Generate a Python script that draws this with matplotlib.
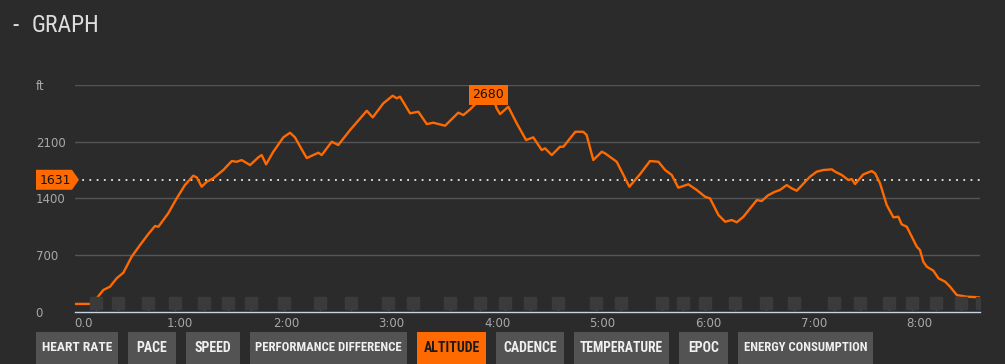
# altitude graph, dark dashboard style
import numpy as np
import matplotlib.pyplot as plt
from matplotlib.patches import Rectangle, Polygon
from matplotlib.transforms import blended_transform_factory
from matplotlib import font_manager

# elapsed time (minutes) and altitude (ft)
minutes = [0, 8.8, 12.6, 16.3, 20.1, 23.9, 27.7, 32.4, 37.2, 41.9, 45.7, 47.6, 53.2, 58.0,
           62.7, 67.4, 69.4, 72.2, 75.1, 78.8, 84.5, 89.3, 92.1, 94.9, 99.7, 104.4, 106.3,
           108.8, 112.9, 118.6, 122.4, 125.2, 129.0, 131.9, 135.6, 138.5, 140.4, 146.1,
           149.8, 156.5, 166.0, 169.4, 175.4, 180.7, 183.0, 184.9, 190.6, 195.3, 200.1,
           203.8, 210.5, 218.0, 220.9, 224.7, 229.2, 235.0, 238.3, 239.8, 241.7, 246.4,
           251.2, 256.5, 260.6, 265.4, 267.3, 271.1, 275.8, 277.7, 284.5, 289.0, 290.9,
           294.7, 299.5, 301.4, 308.0, 311.8, 315.2, 321.3, 326.9, 331.7, 335.5, 339.3,
           343.0, 348.7, 353.5, 358.2, 361.0, 365.8, 369.6, 373.4, 376.2, 380.0, 387.6,
           390.4, 393.8, 397.9, 400.7, 404.6, 407.4, 410.3, 417.8, 421.6, 425.4, 430.2,
           432.1, 435.9, 439.6, 441.5, 443.4, 448.1, 452.9, 454.8, 457.6, 461.4, 465.2,
           468.0, 469.9, 472.8, 478.5, 480.3, 482.2, 484.2, 487.9, 490.8, 494.6, 497.4,
           501.2, 506.9, 514.4]
altitude = [95, 95, 165, 267, 308, 412, 481, 679, 824, 960, 1059, 1050, 1216, 1401,
            1566, 1681, 1661, 1545, 1607, 1649, 1752, 1863, 1854, 1875, 1813, 1909, 1937,
            1822, 1978, 2156, 2213, 2156, 2008, 1900, 1937, 1966, 1937, 2102,
            2061, 2246, 2485, 2403, 2577, 2671, 2639, 2659, 2453, 2473, 2320,
            2337, 2300, 2461, 2432, 2502, 2600, 2680, 2610, 2515, 2444, 2535,
            2329, 2123, 2156, 1999, 2020, 1937, 2040, 2040, 2225, 2225, 2185,
            1875, 1978, 1958, 1854, 1690, 1545, 1702, 1863, 1854, 1752, 1690,
            1533, 1575, 1504, 1421, 1401, 1195, 1112, 1133, 1105, 1174, 1380,
            1368, 1436, 1483, 1504, 1566, 1525, 1496, 1669, 1731, 1752, 1760,
            1731, 1690, 1628, 1640, 1578, 1698, 1739, 1711, 1587, 1319, 1166,
            1174, 1080, 1050, 803, 762, 617, 555, 506, 412, 370, 308,
            205, 184, 177]

# lap markers (minutes)
laps = [11.9, 24.9, 41.7, 56.8, 73.8, 87.4, 100.5, 118.7, 139.2, 157.3, 177.8, 192.0,
        213.0, 230.1, 244.8, 258.5, 274.9, 296.0, 310.2, 333.5, 345.4, 357.9, 375.0,
        392.6, 408.5, 431.2, 446.0, 462.5, 475.5, 489.2, 503.4, 515.6]

avg_alt = 1631
yticks = [0, 700, 1400, 2100, 2800]
ytick_labels = ['0', '700', '1400', '2100', 'ft']
xticks = [0, 60, 120, 180, 240, 300, 360, 420, 480]
xtick_labels = ['0.0', '1:00', '2:00', '3:00', '4:00', '5:00', '6:00', '7:00', '8:00']

buttons = ['HEART RATE', 'PACE', 'SPEED', 'PERFORMANCE DIFFERENCE', 'ALTITUDE',
           'CADENCE', 'TEMPERATURE', 'EPOC', 'ENERGY CONSUMPTION']
button_x = [(36, 118), (128, 176), (186, 240), (250, 407), (417, 486),
            (496, 564), (574, 669), (679, 728), (738, 873)]
active = 'ALTITUDE'

BG = '#2b2b2b'
ORANGE = '#ff6a00'
W, H = 1005, 364

# pick a narrow face if one is installed
names = {f.name for f in font_manager.fontManager.ttflist}
narrow = [n for n in ['Liberation Sans Narrow', 'Roboto Condensed', 'Open Sans Condensed',
                      'DejaVu Sans Condensed', 'Roboto'] if n in names]
narrow = narrow + ['DejaVu Sans']

fig = plt.figure(figsize=(W / 100, H / 100), dpi=100, facecolor=BG)
ax = fig.add_axes([74.6 / W, (H - 311.6) / H, (980 - 74.6) / W, (311.6 - 85.3) / H])
ax.set_facecolor(BG)
ax.set_xlim(0, 514.4)
ax.set_ylim(0, 2800)

for s in ['top', 'right', 'left']:
    ax.spines[s].set_visible(False)
ax.spines['bottom'].set_color('#c4d4e4')
ax.spines['bottom'].set_linewidth(1.0)

ax.set_yticks(yticks)
ax.set_yticklabels(ytick_labels)
ax.set_xticks(xticks)
ax.set_xticklabels(xtick_labels)
ax.tick_params(axis='y', length=0, pad=28, labelsize=8.5, labelcolor='#a8a8a8')
ax.tick_params(axis='x', length=0, pad=4, labelsize=8.5, labelcolor='#a8a8a8')
for lb in ax.get_yticklabels():
    lb.set_ha('left')
ax.get_xticklabels()[0].set_ha('left')
ax.grid(axis='y', color='#555555', linewidth=1.0)
ax.grid(axis='x', visible=False)
ax.get_ygridlines()[0].set_visible(False)

ax.plot(minutes, altitude, color=ORANGE, linewidth=1.7, zorder=3, solid_joinstyle='round')

# lap squares along the bottom
tr = blended_transform_factory(ax.transData, ax.transAxes)
ax.plot(laps, np.full(len(laps), 0.037), 's', transform=tr, color='#3b3b3b',
        markersize=8, zorder=4)
ax.vlines(laps, 0.0, 0.012, transform=tr, color='#4a4a4a', linewidth=1, zorder=4)

# average line
ax.axhline(avg_alt, color='#e8e8e8', linestyle=(0, (1, 3)), linewidth=1.3, zorder=2)

# peak label
ipk = int(np.argmax(altitude))
ax.text(minutes[ipk], altitude[ipk], str(altitude[ipk]), ha='center', va='center',
        fontsize=9, color='#111111', zorder=6,
        bbox=dict(boxstyle='square,pad=0.3', fc=ORANGE, ec='none'))

# overlay in pixel coords for title, buttons, avg tag
ov = fig.add_axes([0, 0, 1, 1], facecolor='none', zorder=5)
ov.set_xlim(0, W)
ov.set_ylim(H, 0)
ov.axis('off')

fig.canvas.draw()
rend = fig.canvas.get_renderer()
_, yd = ax.transData.transform((0, avg_alt))
yp = H - yd
ov.add_patch(Polygon([(36, yp - 10), (72, yp - 10), (79, yp), (72, yp + 10), (36, yp + 10)],
                     closed=True, fc=ORANGE, ec='none'))
ov.text(55, yp + 1, str(avg_alt), ha='center', va='center', fontsize=9, color='#111111')

ov.text(12, 26, '-', ha='left', va='center', fontsize=18, color='#dddddd', family=narrow)
ov.text(32, 25.5, 'GRAPH', ha='left', va='center', fontsize=17, color='#dddddd',
        family=narrow, fontstretch='condensed')

for name, (x0, x1) in zip(buttons, button_x):
    on = name == active
    ov.add_patch(Rectangle((x0, 332), x1 - x0, 40, fc=ORANGE if on else '#535353', ec='none'))
    t = ov.text((x0 + x1) / 2, 347.5, name, ha='center', va='center', fontsize=10,
                fontweight='bold', color='#1a1a1a' if on else '#f0f0f0',
                family=narrow, fontstretch='condensed')
    # squeeze the label into its button if the face is too wide
    bb = t.get_window_extent(renderer=rend)
    room = (x1 - x0) - 12
    if bb.width > room:
        t.set_fontsize(10 * room / bb.width)

fig.savefig('out.png', dpi=100, facecolor=BG)
